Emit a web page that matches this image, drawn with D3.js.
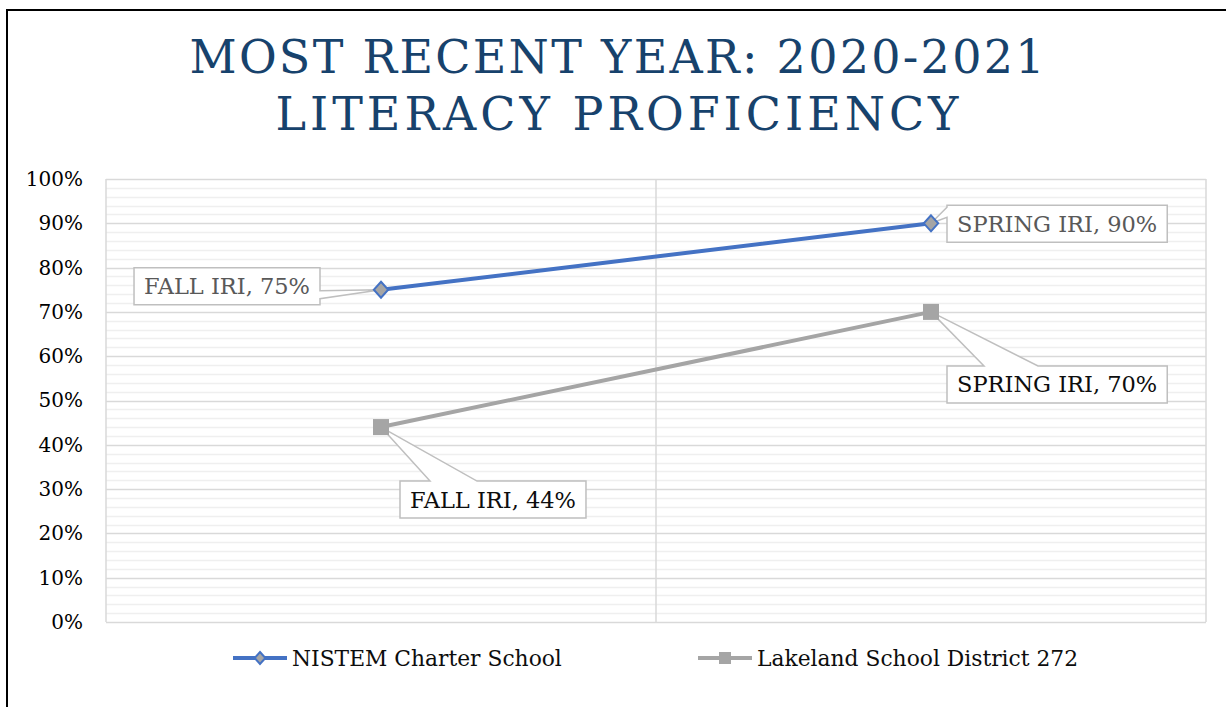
<!DOCTYPE html>
<html><head><meta charset="utf-8">
<script src="https://cdn.jsdelivr.net/npm/d3@7"></script>
<style>body{margin:0;background:#fff;overflow:hidden}</style>
</head><body>
<svg id="chart" width="1226" height="707"></svg>
<script>
// ---- data ----
const categories = ["FALL IRI", "SPRING IRI"];
const seriesNames = ["NISTEM Charter School", "Lakeland School District 272"];
const nistemValues = [75, 90];
const lakelandValues = [44, 70];
const yTickValues = [0, 10, 20, 30, 40, 50, 60, 70, 80, 90, 100];
const titleLines = ["MOST RECENT YEAR: 2020-2021", "LITERACY PROFICIENCY"];

// ---- layout / style ----
const FONT = "'DejaVu Serif', serif";
const W = 1226, H = 707;
const plot = {left: 106, right: 1206, top: 179, bottom: 622};
const svg = d3.select("#chart");

svg.append("rect").attr("width", W).attr("height", H).attr("fill", "#fff");
// outer frame (top and left visible)
svg.append("path").attr("d", `M7,${H+5} L7,10 L${W+5},10`)
  .attr("fill", "none").attr("stroke", "#000").attr("stroke-width", 2);

// title
const titleG = svg.append("g");
const titleColor = "#17426c";
const TSIZE = 46;
const titleWidths = [855, 683];
titleLines.forEach((line, i) => {
  const t = titleG.append("text").text(line)
    .attr("font-family", FONT).attr("font-size", TSIZE);
  const nat = t.node().getComputedTextLength();
  const ls = (titleWidths[i] - nat) / (line.length - 1);
  t.attr("x", 617 + ls / 2).attr("y", i === 0 ? 73 : 130)
    .attr("text-anchor", "middle")
    .attr("letter-spacing", ls)
    .attr("fill", titleColor);
});

// scales
const x = d3.scaleBand().domain(categories).range([plot.left, plot.right]);
const cx = c => x(c) + x.bandwidth() / 2;
const y = d3.scaleLinear().domain([0, 100]).range([plot.bottom, plot.top]);

// gridlines
const grid = svg.append("g");
grid.selectAll("line.minor").data(y.ticks(50).filter(d => d % 10 !== 0))
  .join("line").attr("class", "minor")
  .attr("x1", plot.left).attr("x2", plot.right)
  .attr("y1", d => Math.round(y(d)) + 0.5).attr("y2", d => Math.round(y(d)) + 0.5)
  .attr("stroke", "#efefef").attr("stroke-width", 1.5);
grid.selectAll("line.major").data(yTickValues)
  .join("line").attr("class", "major")
  .attr("x1", plot.left).attr("x2", plot.right)
  .attr("y1", d => Math.round(y(d)) + 0.5).attr("y2", d => Math.round(y(d)) + 0.5)
  .attr("stroke", "#d9d9d9").attr("stroke-width", 1.5);
// vertical category dividers + plot border
const vx = [plot.left, x(categories[1]), plot.right];
grid.selectAll("line.v").data(vx).join("line").attr("class", "v")
  .attr("x1", d => d).attr("x2", d => d)
  .attr("y1", plot.top).attr("y2", plot.bottom)
  .attr("stroke", "#d9d9d9").attr("stroke-width", 1.5);

// y axis
const yAxis = d3.axisLeft(y).tickValues(yTickValues)
  .tickFormat(d => d + "%").tickSize(0).tickPadding(23);
const ya = svg.append("g").attr("transform", `translate(${plot.left},0)`).call(yAxis);
ya.select(".domain").remove();
ya.selectAll("text").attr("font-family", FONT).attr("font-size", 20).attr("fill", "#000");

// series
const series = [
  {name: seriesNames[0], values: nistemValues, color: "#4472c4", marker: "diamond", labelColor: "#595959"},
  {name: seriesNames[1], values: lakelandValues, color: "#a5a5a5", marker: "square", labelColor: "#0d0d0d"}
];
const line = d3.line().x(d => cx(d.c)).y(d => y(d.v));

// callout placement (relative to point): box anchor & wedge
const callouts = [
  [{anchor: "right", dx: -61, dy: -22, side: "right", w0: 1, w1: 9},
   {anchor: "left", dx: 16, dy: -18, side: "left", w0: -16, w1: -6}],
  [{anchor: "left", dx: 19, dy: 54, side: "top", w0: 49, w1: 96},
   {anchor: "left", dx: 16, dy: 54, side: "top", w0: 53, w1: 107}]
];

function calloutPath(x0, y0, x1, y1, side, a, b, tx, ty) {
  let p = `M${x0},${y0}`;
  if (side === "top") p += ` L${a},${y0} L${tx},${ty} L${b},${y0}`;
  p += ` L${x1},${y0}`;
  if (side === "right") p += ` L${x1},${a} L${tx},${ty} L${x1},${b}`;
  p += ` L${x1},${y1} L${x0},${y1}`;
  if (side === "left") p += ` L${x0},${b} L${tx},${ty} L${x0},${a}`;
  return p + " Z";
}

series.forEach((s, si) => {
  const pts = categories.map((c, i) => ({c, v: s.values[i]}));
  svg.append("path").datum(pts).attr("d", line)
    .attr("fill", "none").attr("stroke", s.color).attr("stroke-width", 4)
    .attr("stroke-linecap", "round");
});

function drawMarker(g, s, px, py, size) {
  if (s.marker === "diamond") {
    const r = size / 2;
    g.append("path").attr("d", `M${px},${py - r} L${px + r * 0.9},${py} L${px},${py + r} L${px - r * 0.9},${py} Z`)
      .attr("fill", "#a5a5a5").attr("stroke", "#4472c4").attr("stroke-width", 2);
  } else {
    g.append("rect").attr("x", px - size / 2).attr("y", py - size / 2)
      .attr("width", size).attr("height", size).attr("fill", "#a5a5a5");
  }
}

const labelsG = svg.append("g");
const markersG = svg.append("g");
series.forEach((s, si) => {
  categories.forEach((c, i) => {
    const px = cx(c), py = y(s.values[i]);
    const co = callouts[si][i];
    const txt = labelsG.append("text").text(`${c}, ${s.values[i]}%`)
      .attr("font-family", FONT).attr("font-size", 22.5).attr("fill", s.labelColor);
    const tw = txt.node().getComputedTextLength();
    const bw = tw + 20, bh = 37;
    const x0 = co.anchor === "right" ? px + co.dx - bw : px + co.dx;
    const x1 = x0 + bw;
    const y0 = py + co.dy, y1 = y0 + bh;
    let a, b;
    if (co.side === "top") { a = px + co.w0; b = px + co.w1; }
    else { a = py + co.w0; b = py + co.w1; }
    labelsG.insert("path", "text").attr("d", calloutPath(x0, y0, x1, y1, co.side, a, b, px, py))
      .attr("fill", "#fff").attr("stroke", "#bfbfbf").attr("stroke-width", 1.5);
    txt.attr("x", x0 + bw / 2).attr("y", y0 + bh / 2 + 8).attr("text-anchor", "middle");
    drawMarker(markersG, s, px, py, 16);
  });
});

// legend
const legend = svg.append("g");
const legendItems = [{x: 233}, {x: 698}];
series.forEach((s, si) => {
  const lx = legendItems[si].x, ly = 658;
  legend.append("line").attr("x1", lx).attr("x2", lx + 54).attr("y1", ly).attr("y2", ly)
    .attr("stroke", s.color).attr("stroke-width", 4);
  drawMarker(legend, s, lx + 27, ly, 12);
  legend.append("text").text(s.name).attr("x", lx + 59).attr("y", ly + 8)
    .attr("font-family", FONT).attr("font-size", 21.8).attr("fill", "#0d0d0d");
});
</script>
</body></html>
